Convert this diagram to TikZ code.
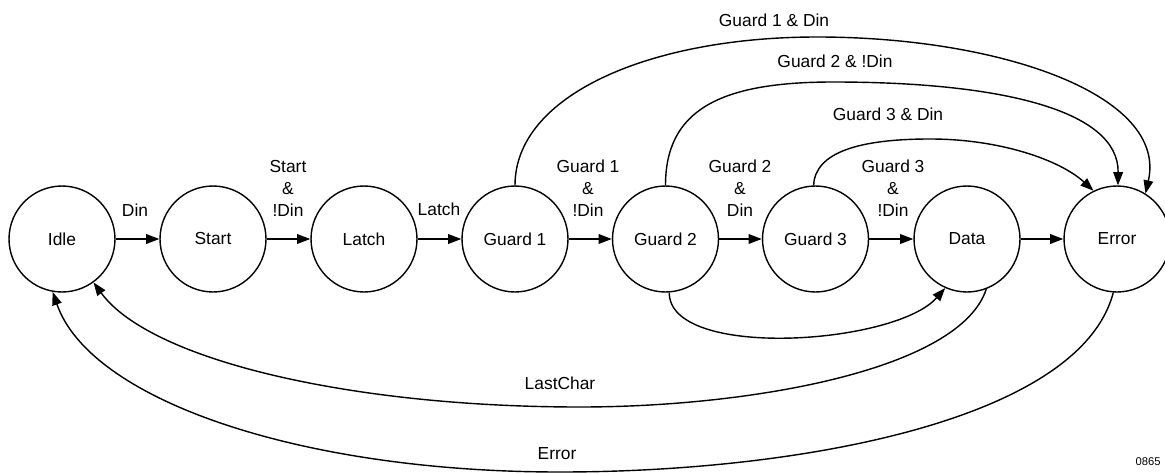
\documentclass[tikz,border=0pt]{standalone}
\usepackage{fontspec}
\setmainfont{Liberation Sans}
\usetikzlibrary{arrows.meta}
\begin{document}
\begin{tikzpicture}[x=0.02cm,y=-0.02cm,
  stnode/.style={draw, circle, line width=0.8pt, minimum size=2.12cm, inner sep=0pt,
                 font=\fontsize{9.9}{12}\selectfont},
  lbl/.style={font=\fontsize{9.9}{12.5}\selectfont, align=center, inner sep=0pt},
  conn/.style={line width=0.8pt, -{Triangle[length=7.5pt,width=5.5pt]}},
]
\useasboundingbox (0,0) rectangle (1165,473);

% states
\node[stnode] (idle)  at (62,239)    {Idle};
\node[stnode] (start) at (213,239)   {Start};
\node[stnode] (latch) at (364,239)   {Latch};
\node[stnode] (g1)    at (515,239)   {Guard 1};
\node[stnode] (g2)    at (665.5,239) {Guard 2};
\node[stnode] (g3)    at (815.5,239) {Guard 3};
\node[stnode] (data)  at (967,239)   {Data};
\node[stnode] (err)   at (1117,239)  {Error};

% forward chain
\draw[conn] (idle)  -- (start);
\draw[conn] (start) -- (latch);
\draw[conn] (latch) -- (g1);
\draw[conn] (g1)    -- (g2);
\draw[conn] (g2)    -- (g3);
\draw[conn] (g3)    -- (data);
\draw[conn] (data)  -- (err);

\node[lbl] (lDin)   at (135,210) {Din};
\node[lbl] (lStart) at (288,188) {Start\\\&\\!Din};
\node[lbl] (lLatch) at (439,209) {Latch};
\node[lbl] (lG1)    at (588,188) {Guard 1\\\&\\!Din};
\node[lbl] (lG2)    at (740,188) {Guard 2\\\&\\Din};
\node[lbl] (lG3)    at (893,188) {Guard 3\\\&\\!Din};

% guard failures into Error
\draw[conn] (g1.90) .. controls (515,95) and (650,37) .. (817,37)
                    .. controls (1000,37) and (1168,95) .. (err.58);
\draw[conn] (g2.90) .. controls (665.5,110) and (720,82) .. (833,82)
                    .. controls (1000,82) and (1119,110) .. (err.89);
\draw[conn] (g3.92) .. controls (815,152) and (860,139) .. (930,139)
                    .. controls (1000,139) and (1060,160) .. (err.116);

\node[lbl] (lG1D) at (774,20)  {Guard 1 \& Din};
\node[lbl] (lG2D) at (835,61)  {Guard 2 \& !Din};
\node[lbl] (lG3D) at (888,114) {Guard 3 \& Din};

% Guard 2 skips to Data
\draw[conn] (g2.-86) .. controls (669,360) and (895,345) .. (data.-114);

% return paths to Idle
\draw[conn] (data.-69) .. controls (960,370) and (750,407) .. (580,407)
                       .. controls (350,407) and (150,360) .. (idle.-54);
\draw[conn] (err.-94) .. controls (1080,420) and (800,472) .. (560,472)
                      .. controls (300,472) and (90,400) .. (idle.-100);

\node[lbl] (lLast) at (560,383) {LastChar};
\node[lbl] (lErr)  at (557,454) {Error};

\node[font=\fontsize{6.4}{8}\selectfont, inner sep=0pt] (fig) at (1148,462) {0865};
\end{tikzpicture}
\end{document}
